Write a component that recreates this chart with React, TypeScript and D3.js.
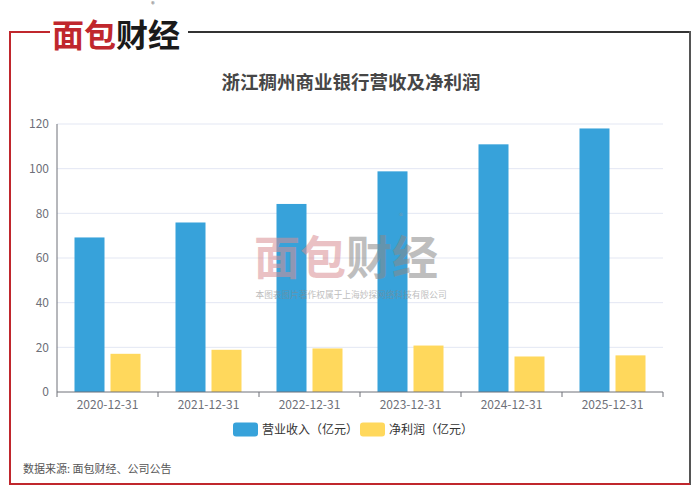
import React from 'react';
import * as d3 from 'd3';

const categories = ['2020-12-31', '2021-12-31', '2022-12-31', '2023-12-31', '2024-12-31', '2025-12-31'];
const revenue = [69.2, 75.9, 84.2, 98.8, 110.9, 118.0];
const netProfit = [17.1, 18.9, 19.5, 20.8, 15.9, 16.4];
const yTicks = [0, 20, 40, 60, 80, 100, 120];
const seriesNames = ['营业收入（亿元）', '净利润（亿元）'];
const seriesColors = ['#37a2da', '#ffd85c'];

const W = 700;
const H = 495;
const margin = { top: 124, right: 37, bottom: 103, left: 57 };
const FONT = '"Noto Sans CJK SC", "Noto Sans", sans-serif';

const App: React.FC = () => {
  const x = d3.scaleBand<string>()
    .domain(categories)
    .range([margin.left, W - margin.right]);

  const y = d3.scaleLinear()
    .domain([0, 120])
    .range([H - margin.bottom, margin.top]);

  const barW = 30;
  const gap = 6;
  const series = [revenue, netProfit];

  return (
    <svg width={W} height={H} style={{ position: 'absolute', left: 0, top: 0, background: '#fff' }} fontFamily={FONT}>
      {/* frame */}
      <line x1={188} y1={32} x2={690} y2={32} stroke="#333" strokeWidth={2} />
      <line x1={690} y1={31} x2={690} y2={485} stroke="#555" strokeWidth={2} />
      <line x1={10} y1={32} x2={50} y2={32} stroke="#c0272d" strokeWidth={2} />
      <line x1={10} y1={31} x2={10} y2={485} stroke="#c0272d" strokeWidth={2} />
      <line x1={9} y1={484} x2={690} y2={484} stroke="#c0272d" strokeWidth={2} />

      {/* logo */}
      <text x={52} y={47} fontSize={32} fontWeight="bold">
        <tspan fill="#c0272d">面包</tspan>
        <tspan fill="#1a1a1a">财经</tspan>
      </text>
      <text x={153} y={7} fontSize={7} fill="#555" textAnchor="middle">®</text>

      {/* title */}
      <text x={351} y={89} textAnchor="middle" fontSize={18.5} fontWeight="bold" fill="#464646">
        浙江稠州商业银行营收及净利润
      </text>

      {/* grid */}
      {yTicks.map(t => (
        <g key={t}>
          {t > 0 && (
            <line x1={margin.left} x2={W - margin.right} y1={y(t)} y2={y(t)} stroke="#e3e7f3" strokeWidth={1} />
          )}
          <text x={margin.left - 8} y={y(t)} dy="0.35em" textAnchor="end" fontSize={12} fill="#6e7079">{t}</text>
        </g>
      ))}

      {/* bars */}
      {series.map((vals, si) => (
        <g key={si}>
          {categories.map((c, i) => {
            const cx = (x(c) ?? 0) + x.bandwidth() / 2;
            const bx = si === 0 ? cx - gap / 2 - barW : cx + gap / 2;
            return (
              <rect key={c} x={bx} y={y(vals[i])} width={barW} height={y(0) - y(vals[i])}
                fill={seriesColors[si]} />
            );
          })}
        </g>
      ))}

      {/* axes */}
      <line x1={margin.left} x2={margin.left} y1={margin.top} y2={y(0)} stroke="#6e7079" strokeWidth={1} />
      <line x1={margin.left} x2={W - margin.right} y1={y(0)} y2={y(0)} stroke="#6e7079" strokeWidth={1} />
      {categories.concat(['end']).map((c, i) => {
        const tx = margin.left + i * x.step();
        return <line key={c} x1={tx} x2={tx} y1={y(0)} y2={y(0) + 5} stroke="#6e7079" />;
      })}
      {categories.map(c => (
        <text key={c} x={(x(c) ?? 0) + x.bandwidth() / 2} y={y(0) + 17} textAnchor="middle" fontSize={12} fill="#6e7079">
          {c}
        </text>
      ))}

      {/* watermark */}
      <g opacity={0.55}>
        <text x={254} y={274} fontSize={46} fontWeight="bold">
          <tspan fill="#d98f94">面包</tspan>
          <tspan fill="#8a8a8a">财经</tspan>
        </text>
        <text x={401} y={219} fontSize={8} fill="#999" textAnchor="middle">®</text>
        <text x={351} y={298} fontSize={8.7} fill="#888" textAnchor="middle">本图表图片著作权属于上海妙探网络科技有限公司</text>
      </g>

      {/* legend */}
      {seriesNames.map((n, i) => {
        const lx = i === 0 ? 233 : 360;
        return (
          <g key={n}>
            <rect x={lx} y={422.5} width={25} height={14} rx={3} fill={seriesColors[i]} />
            <text x={lx + 29} y={429.5} dy="0.35em" fontSize={12} fill="#333">{n}</text>
          </g>
        );
      })}

      {/* source */}
      <text x={23} y={469} dy="0.35em" fontSize={11} fill="#555">数据来源: 面包财经、公司公告</text>
    </svg>
  );
};

export default App;
